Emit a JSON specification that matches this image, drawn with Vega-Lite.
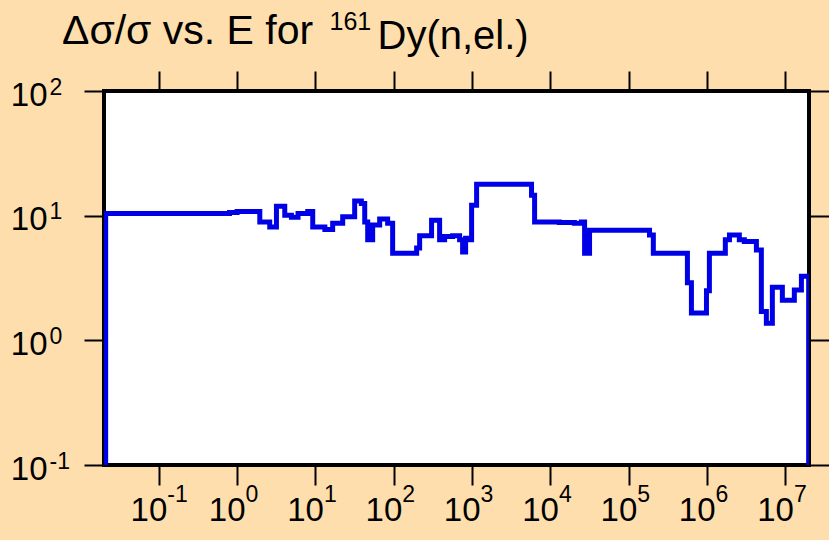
{
  "$schema": "https://vega.github.io/schema/vega-lite/v6.json",
  "width": 705,
  "height": 374,
  "autosize": {"type": "none"},
  "padding": {"left": 104, "top": 91, "right": 20, "bottom": 75},
  "background": "#ffdead",
  "title": {
    "text": "Δσ/σ vs. E for",
    "anchor": "start",
    "frame": "group",
    "dx": -42,
    "offset": -44,
    "font": "Liberation Sans",
    "fontSize": 41,
    "fontWeight": "normal",
    "color": "black"
  },
  "config": {
    "view": {"stroke": "black", "strokeWidth": 4, "fill": "white"},
    "axis": {
      "domain": false,
      "grid": false,
      "tickColor": "black",
      "tickWidth": 2,
      "tickSize": 20,
      "labelFont": "Liberation Sans",
      "labelColor": "black",
      "labelOverlap": false,
      "labelFlush": false,
      "titleFont": "Liberation Sans",
      "titleFontWeight": "normal",
      "titleColor": "black",
      "title": null
    }
  },
  "data": {
    "values": [
      {"i": 0, "E": 0.021, "v": 0.1},
      {"i": 1, "E": 0.021, "v": 10.4},
      {"i": 2, "E": 0.8, "v": 10.6},
      {"i": 3, "E": 1.0, "v": 10.8},
      {"i": 4, "E": 1.95, "v": 8.9},
      {"i": 5, "E": 2.61, "v": 8.1},
      {"i": 6, "E": 3.18, "v": 11.9},
      {"i": 7, "E": 4.06, "v": 10.1},
      {"i": 8, "E": 4.94, "v": 9.7},
      {"i": 9, "E": 6.0, "v": 10.4},
      {"i": 10, "E": 7.98, "v": 10.8},
      {"i": 11, "E": 9.24, "v": 8.1},
      {"i": 12, "E": 13.2, "v": 7.75},
      {"i": 13, "E": 16.6, "v": 8.7},
      {"i": 14, "E": 22.3, "v": 9.8},
      {"i": 15, "E": 31.7, "v": 13.1},
      {"i": 16, "E": 38.6, "v": 12.5},
      {"i": 17, "E": 42.6, "v": 8.9},
      {"i": 18, "E": 46.5, "v": 6.4},
      {"i": 19, "E": 53.8, "v": 8.4},
      {"i": 20, "E": 66.1, "v": 9.4},
      {"i": 21, "E": 83.6, "v": 8.7},
      {"i": 22, "E": 96.8, "v": 5.0},
      {"i": 23, "E": 196, "v": 5.5},
      {"i": 24, "E": 214, "v": 6.9},
      {"i": 25, "E": 304, "v": 9.2},
      {"i": 26, "E": 385, "v": 6.4},
      {"i": 27, "E": 446, "v": 6.8},
      {"i": 28, "E": 564, "v": 6.9},
      {"i": 29, "E": 693, "v": 6.4},
      {"i": 30, "E": 757, "v": 5.1},
      {"i": 31, "E": 827, "v": 6.6},
      {"i": 32, "E": 902, "v": 6.4},
      {"i": 33, "E": 986, "v": 12.1},
      {"i": 34, "E": 1142, "v": 17.9},
      {"i": 35, "E": 5740, "v": 14.6},
      {"i": 36, "E": 6280, "v": 8.9},
      {"i": 37, "E": 13000, "v": 8.8},
      {"i": 38, "E": 20200, "v": 8.7},
      {"i": 39, "E": 24900, "v": 8.9},
      {"i": 40, "E": 27300, "v": 5.0},
      {"i": 41, "E": 31600, "v": 7.65},
      {"i": 42, "E": 184000, "v": 7.0},
      {"i": 43, "E": 206000, "v": 5.0},
      {"i": 44, "E": 561000, "v": 2.9},
      {"i": 45, "E": 631000, "v": 1.66},
      {"i": 46, "E": 982000, "v": 2.5},
      {"i": 47, "E": 1070000, "v": 5.0},
      {"i": 48, "E": 1710000, "v": 6.4},
      {"i": 49, "E": 1930000, "v": 7.0},
      {"i": 50, "E": 2580000, "v": 6.4},
      {"i": 51, "E": 2990000, "v": 6.2},
      {"i": 52, "E": 4260000, "v": 5.3},
      {"i": 53, "E": 4930000, "v": 1.7},
      {"i": 54, "E": 5710000, "v": 1.37},
      {"i": 55, "E": 6810000, "v": 2.66},
      {"i": 56, "E": 9140000, "v": 2.1},
      {"i": 57, "E": 13000000, "v": 2.53},
      {"i": 58, "E": 16000000, "v": 3.27},
      {"i": 59, "E": 19800000, "v": 0.1}
    ]
  },
  "layer": [
    {
      "mark": {"type": "line", "interpolate": "step-after", "color": "#0000e6", "strokeWidth": 5, "strokeJoin": "miter", "clip": true},
      "encoding": {
        "x": {
          "field": "E", "type": "quantitative",
          "scale": {"type": "log", "domain": [0.02, 20000000], "nice": false},
          "axis": {
            "orient": "bottom",
            "values": [0.1, 1, 10, 100, 1000, 10000, 100000, 1000000, 10000000],
            "labelExpr": "'10'",
            "labelFontSize": 33,
            "labelAlign": "right",
            "labelBaseline": "alphabetic",
            "labelOffset": 8,
            "labelPadding": 35
          }
        },
        "y": {
          "field": "v", "type": "quantitative",
          "scale": {"type": "log", "domain": [0.1, 100], "nice": false},
          "axis": {
            "orient": "left",
            "values": [0.1, 1, 10, 100],
            "labelExpr": "'10'",
            "labelFontSize": 33,
            "labelAlign": "right",
            "labelBaseline": "alphabetic",
            "labelOffset": 14,
            "labelPadding": 37
          }
        },
        "order": {"field": "i", "type": "quantitative"}
      }
    },
    {
      "mark": {"type": "line", "opacity": 0},
      "encoding": {
        "x": {
          "field": "E", "type": "quantitative",
          "scale": {"type": "log", "domain": [0.02, 20000000], "nice": false},
          "axis": {
            "orient": "top",
            "labels": false,
            "values": [0.1, 1, 10, 100, 1000, 10000, 100000, 1000000, 10000000],
            "title": "161",
            "titleFontSize": 25,
            "titleAngle": 0,
            "titleAlign": "left",
            "titleBaseline": "alphabetic",
            "titleX": 225,
            "titleY": -62
          }
        },
        "y": {
          "field": "v", "type": "quantitative",
          "scale": {"type": "log", "domain": [0.1, 100], "nice": false},
          "axis": {
            "orient": "right",
            "labels": false,
            "values": [0.1, 1, 10, 100],
            "title": "Dy(n,el.)",
            "titleFontSize": 40,
            "titleAngle": 0,
            "titleAlign": "left",
            "titleBaseline": "alphabetic",
            "titleX": -432,
            "titleY": -43
          }
        },
        "order": {"field": "i", "type": "quantitative"}
      }
    },
    {
      "mark": {"type": "line", "opacity": 0},
      "encoding": {
        "x": {
          "field": "E", "type": "quantitative",
          "scale": {"type": "log", "domain": [0.02, 20000000], "nice": false},
          "axis": {
            "orient": "bottom",
            "values": [0.1, 1, 10, 100, 1000, 10000, 100000, 1000000, 10000000],
            "tickOpacity": 0,
            "labelExpr": "['-1','0','1','2','3','4','5','6','7'][round(log(datum.value)/LN10)+1]",
            "labelFontSize": 23,
            "labelAlign": "left",
            "labelBaseline": "alphabetic",
            "labelOffset": 8,
            "labelPadding": 16
          }
        },
        "y": {
          "field": "v", "type": "quantitative",
          "scale": {"type": "log", "domain": [0.1, 100], "nice": false},
          "axis": {
            "orient": "left",
            "values": [0.1, 1, 10, 100],
            "tickOpacity": 0,
            "labelExpr": "['-1','0','1','2','3','4','5','6','7'][round(log(datum.value)/LN10)+1]",
            "labelFontSize": 23,
            "labelAlign": "left",
            "labelBaseline": "alphabetic",
            "labelOffset": 3,
            "labelPadding": 35
          }
        },
        "order": {"field": "i", "type": "quantitative"}
      }
    }
  ],
  "resolve": {"axis": {"x": "independent", "y": "independent"}}
}
